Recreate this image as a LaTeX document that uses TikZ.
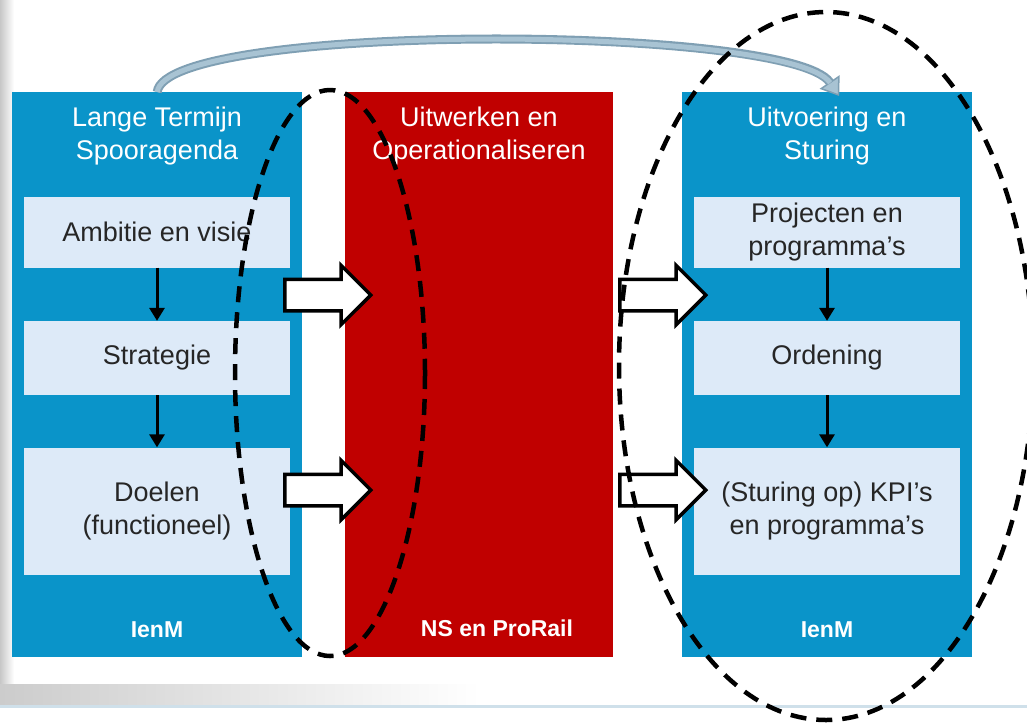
\documentclass[tikz,border=0pt]{standalone}
\usepackage{fontspec}
\setmainfont{Liberation Sans}
\usepackage{xcolor}
\usepackage{tikz}
\usetikzlibrary{shapes,arrows,positioning,calc,arrows.meta}

\definecolor{ienmblauw}{HTML}{0A94C9}
\definecolor{nsrood}{HTML}{C00000}
\definecolor{blokkleur}{HTML}{DDEAF8}
\definecolor{boogkleur}{HTML}{A8C3D3}
\definecolor{boogrand}{HTML}{7F9FB3}
\definecolor{lijnkleur}{HTML}{CFE0EA}

\begin{document}
\begin{tikzpicture}[x=1pt, y=-1pt,
    kolom/.style={draw=none, minimum width=290, minimum height=565, anchor=north west, inner sep=0},
    blok/.style={fill=blokkleur, minimum width=266, align=center, inner sep=0,
        font=\fontsize{27}{33}\selectfont, text=black!85},
    kop/.style={align=center, text=white, font=\fontsize{27}{33}\selectfont},
    voet/.style={text=white, font=\bfseries\fontsize{23}{27}\selectfont},
    pijl/.style={line width=3, -{Triangle[length=13, width=15]}},
    blokpijl/.style={single arrow, draw=black, fill=white, line width=3.5, inner sep=0,
        minimum height=86, single arrow head extend=14,
        single arrow head indent=0, anchor=west},
    kader/.style={line width=4.5, dash pattern=on 16 off 10},
    boogbuiten/.style={draw=boogrand, line width=9,
        -{Triangle[length=17, width=24, line width=1.5pt, fill=boogkleur]}},
    booginnen/.style={draw=boogkleur, line width=5, shorten >=16}]

    \useasboundingbox (0,0) rectangle (1027,724);

    % achtergrond
    \fill[left color=black!22, right color=white] (0,0) rectangle (14,684);
    \fill[left color=black!20, right color=white] (0,684) rectangle (480,704);
    \draw[lijnkleur, line width=3] (0,706) -- (1027,706);

    % kolommen
    \node[kolom, fill=ienmblauw] (lt) at (12,92) {};
    \node[kolom, fill=nsrood, minimum width=268] (uo) at (345,92) {};
    \node[kolom, fill=ienmblauw] (us) at (682,92) {};

    \node[kop] (lt-kop) at (157,136) {Lange Termijn\\Spooragenda};
    \node[kop] (uo-kop) at (479,136) {Uitwerken en\\Operationaliseren};
    \node[kop] (us-kop) at (827,136) {Uitvoering en\\Sturing};

    % linker kolom
    \node[blok, minimum height=71] (ambitie) at (157,232) {Ambitie en visie};
    \node[blok, minimum height=74] (strategie) at (157,358) {Strategie};
    \node[blok, minimum height=127] (doelen) at (157,511) {Doelen\\(functioneel)};
    \draw[pijl] (ambitie) -- (strategie);
    \draw[pijl] (strategie) -- (doelen);

    % rechter kolom
    \node[blok, minimum height=71] (projecten) at (827,232) {Projecten en\\programma's};
    \node[blok, minimum height=74] (ordening) at (827,358) {Ordening};
    \node[blok, minimum height=127] (kpi) at (827,511) {(Sturing op) KPI's\\en programma's};
    \draw[pijl] (projecten) -- (ordening);
    \draw[pijl] (ordening) -- (kpi);

    \node[voet] (lt-voet) at (157,630) {IenM};
    \node[voet] (uo-voet) at (497,628) {NS en ProRail};
    \node[voet] (us-voet) at (827,630) {IenM};

    % blokpijlen
    \node[blokpijl] (p1) at (283,295) {\rule{0pt}{28pt}};
    \node[blokpijl] (p2) at (283,490) {\rule{0pt}{28pt}};
    \node[blokpijl] (p3) at (618,295) {\rule{0pt}{28pt}};
    \node[blokpijl] (p4) at (618,490) {\rule{0pt}{28pt}};

    % boog van links naar rechts
    \coordinate (boogeind) at ([xshift=12,yshift=-4]us.north);
    \draw[boogbuiten] (lt.north) .. controls (165,22) and (790,24) .. (boogeind);
    \draw[booginnen] (lt.north) .. controls (165,22) and (790,24) .. (boogeind);

    % stippellijnen
    \draw[kader] (330,373) ellipse [x radius=95, y radius=283];
    \draw[kader] (826,366) ellipse [x radius=207, y radius=354];
\end{tikzpicture}
\end{document}
